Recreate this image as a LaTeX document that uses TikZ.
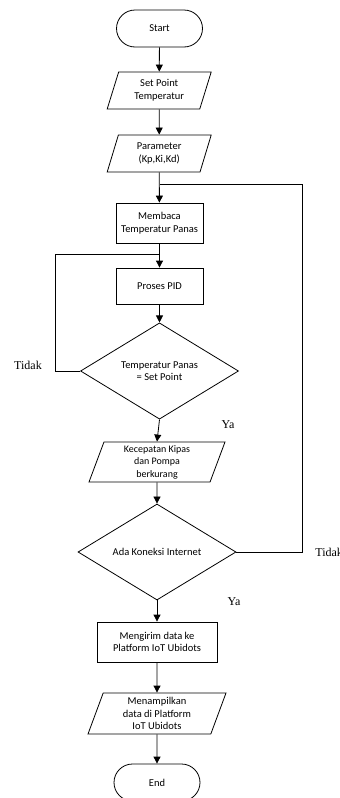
\documentclass[tikz,border=0pt]{standalone}
\usepackage{fontspec}
\setmainfont{Carlito}
\newfontfamily\tnr{Liberation Serif}
\usetikzlibrary{shapes.geometric,shapes.misc,arrows.meta}

\begin{document}
\begin{tikzpicture}[
	x=1pt, y=-1pt
	,every node/.append style={font=\fontsize{10.5}{12.6}\selectfont, align=center, inner sep=0pt}
	,term/.style={rounded rectangle, draw, minimum width=86pt, minimum height=37pt}
	,io/.style={trapezium, draw, trapezium stretches body, trapezium left angle=#1, trapezium right angle=180-#1, minimum height=38pt}
	,proc/.style={rectangle, draw, minimum height=38pt}
	,dec/.style={diamond, draw, minimum width=158pt, minimum height=78pt}
	,lbl/.style={font=\tnr\fontsize{12}{14}\selectfont}
	,arr/.style={-{Triangle[length=7pt,width=7pt]}}
	,thick
]
	\useasboundingbox (0,0) rectangle (340,798);

	\node [term] (start) at (159.5,28.5) {Start};
	\node [io=62, minimum width=104pt, minimum height=37pt] (setp) at (159.2,90.5) {Set Point\\Temperatur};
	\node [io=62, minimum width=104pt, minimum height=37pt] (param) at (159.2,153.5) {Parameter\\(Kp,Ki,Kd)};
	\node [proc, minimum width=87pt, minimum height=40pt] (baca) at (159.5,223) {Membaca\\Temperatur Panas};
	\node [proc, minimum width=87pt, minimum height=36pt] (pid) at (159.5,286) {Proses PID};
	\node [dec] (cek) at (159.5,371) {Temperatur Panas\\= Set Point};
	\node [io=66, minimum width=136pt, minimum height=40pt, font=\fontsize{10}{12.5}\selectfont] (kipas) at (157,462) {Kecepatan Kipas\\dan Pompa\\berkurang};
	\node [dec] (net) at (157,552) {Ada Koneksi Internet};
	\node [proc, minimum width=120pt, minimum height=40pt] (kirim) at (157,642) {Mengirim data ke\\Platform IoT Ubidots};
	\node [io=65, minimum width=138pt, minimum height=41pt] (tampil) at (157,713.5) {Menampilkan\\data di Platform\\IoT Ubidots};
	\node [term] (end) at (157,782.5) {End};

	\coordinate (j1) at (159.5,184);
	\coordinate (j2) at (159.5,254);

	\draw [arr] (start) -- (setp);
	\draw [arr] (setp) -- (param);
	\draw [arr] (param) -- (baca);
	\draw [arr] (baca) -- (pid);
	\draw [arr] (pid) -- (cek);
	\draw [arr] (cek.south) -- (kipas.north);
	\draw [arr] (kipas) -- (net);
	\draw [arr] (net) -- (kirim);
	\draw [arr] (kirim) -- (tampil);
	\draw [arr] (tampil) -- (end);

	% loop back when not equal / no connection
	\draw (cek.west) -- ++(-25,0) |- (j2);
	\draw (net.east) -- ++(66,0) |- (j1);

	\node [lbl] (t1) at (28,365) {Tidak};
	\node [lbl, anchor=west] (t2) at (315,552) {Tidak};
	\node [lbl] (y1) at (228,425) {Ya};
	\node [lbl] (y2) at (234,602) {Ya};
\end{tikzpicture}
\end{document}
